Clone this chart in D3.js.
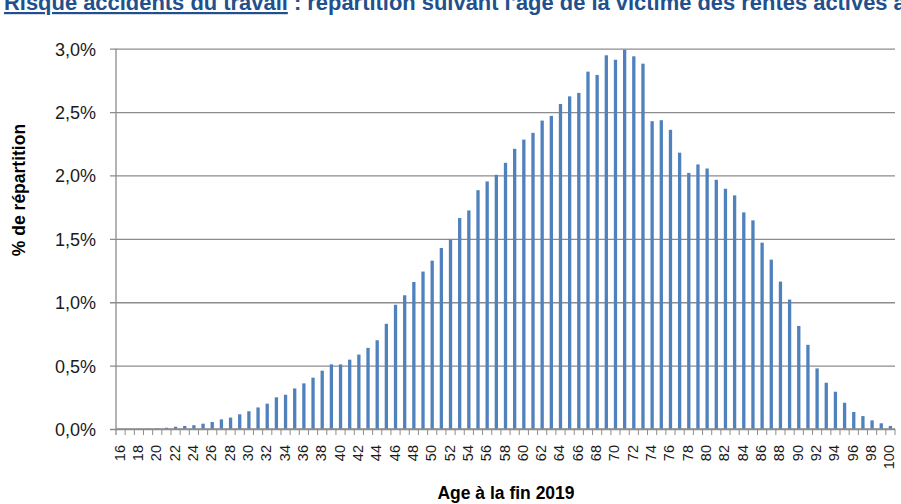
<!DOCTYPE html>
<html lang="fr">
<head>
<meta charset="UTF-8">
<title>Répartition suivant l'âge de la victime</title>
<script src="https://d3js.org/d3.v7.min.js"></script>
<style>
    body { margin: 0; background: #fff; }
    svg { display: block; font-family: "Liberation Sans", Arial, sans-serif; }
    .title { fill: #22508c; font-size: 22px; font-weight: bold; }
    .tick text { fill: #1a1a1a; font-size: 18px; }
    .axisTitle { fill: #000; font-size: 17.5px; font-weight: bold; }
</style>
</head>
<body>
<svg width="901" height="504"></svg>
<script>
// ages 16..100
const ages = d3.range(16, 101);
// % de répartition
const shares = [
    0.001, 0.001, 0.002, 0.003, 0.005, 0.010, 0.018, 0.024, 0.030, 0.042,
    0.055, 0.076, 0.090, 0.116, 0.140, 0.170, 0.200, 0.250, 0.270, 0.320,
    0.360, 0.405, 0.460, 0.510, 0.510, 0.547, 0.587, 0.640, 0.700, 0.830,
    0.980, 1.055, 1.160, 1.242, 1.328, 1.428, 1.494, 1.664, 1.724, 1.884,
    1.953, 2.005, 2.100, 2.210, 2.283, 2.336, 2.433, 2.470, 2.564, 2.624,
    2.651, 2.819, 2.793, 2.948, 2.913, 2.992, 2.940, 2.882, 2.428, 2.436,
    2.360, 2.180, 2.020, 2.087, 2.055, 1.966, 1.895, 1.843, 1.709, 1.646,
    1.470, 1.336, 1.163, 1.021, 0.813, 0.664, 0.478, 0.365, 0.294, 0.207,
    0.134, 0.102, 0.068, 0.045, 0.024
];
const yTicks = [0, 0.5, 1, 1.5, 2, 2.5, 3];

const svg = d3.select("svg");
const margin = { left: 116, right: 6, top: 48, bottom: 75 };
const W = 901, H = 504;

const x = d3.scaleBand()
    .domain(ages)
    .range([margin.left, W - margin.right])
    .paddingInner(0.64)
    .paddingOuter(0.32);
const y = d3.scaleLinear()
    .domain([0, 3])
    .range([H - margin.bottom, margin.top + 0.7]);

// title (runs off the top and right edge like the source)
const title = svg.append("text").attr("class", "title");
const t1 = title.append("tspan").attr("text-decoration", "underline").text("Risque accidents du travail");
title.append("tspan").text(" : répartition suivant l'âge de la victime des rentes actives au 31/12/2019");
// underlined part is ~284px wide in the source
const k = 284 / t1.node().getComputedTextLength();
title.attr("transform", `translate(4,10) scale(${k},1)`);

// gridlines + y axis
const yAxis = svg.append("g")
    .attr("transform", `translate(${margin.left},0)`)
    .call(d3.axisLeft(y).tickValues(yTicks)
        .tickSize(-(W - margin.right - margin.left))
        .tickPadding(20)
        .tickFormat(d => d3.format(".1f")(d).replace(".", ",") + "%"));
yAxis.select(".domain").remove();
yAxis.selectAll(".tick line").attr("stroke", "#8c8c8c").attr("stroke-width", 1.3).attr("x1", -6);
yAxis.selectAll(".tick text").attr("dy", "0.36em");

// bars
svg.append("g").selectAll("rect")
    .data(ages)
    .enter()
    .append("rect")
    .attr("x", d => x(d))
    .attr("width", x.bandwidth())
    .attr("y", (d, i) => y(shares[i]))
    .attr("height", (d, i) => y(0) - y(shares[i]))
    .attr("fill", "#4f81bd");

// y axis line
svg.append("line")
    .attr("x1", margin.left).attr("x2", margin.left)
    .attr("y1", y(3)).attr("y2", y(0) + 6)
    .attr("stroke", "#8c8c8c").attr("stroke-width", 1.3);

// x axis: ticks between categories, labels every 2 years
const step = x.step();
const xg = svg.append("g").attr("transform", `translate(0,${y(0)})`);
xg.append("line")
    .attr("x1", margin.left).attr("x2", W - margin.right)
    .attr("stroke", "#8c8c8c").attr("stroke-width", 1.3);
xg.selectAll(".xt")
    .data(ages)
    .enter()
    .append("line")
    .attr("x1", d => x(d) + x.bandwidth() / 2 + step / 2)
    .attr("x2", d => x(d) + x.bandwidth() / 2 + step / 2)
    .attr("y1", 0).attr("y2", 6)
    .attr("stroke", "#8c8c8c");
xg.selectAll(".xl")
    .data(ages.filter(a => a % 2 === 0))
    .enter()
    .append("text")
    .attr("class", "xl")
    .attr("transform", d => `translate(${x(d) + x.bandwidth() / 2 + 4},16) rotate(-90)`)
    .attr("text-anchor", "end")
    .attr("fill", "#1a1a1a")
    .attr("font-size", "14.5px")
    .text(d => d);

// axis titles
svg.append("text").attr("class", "axisTitle")
    .attr("x", 506).attr("y", 499)
    .attr("text-anchor", "middle")
    .text("Age à la fin 2019");
svg.append("text").attr("class", "axisTitle")
    .attr("transform", "translate(25,190) rotate(-90)")
    .attr("text-anchor", "middle")
    .text("% de répartition");
</script>
</body>
</html>
